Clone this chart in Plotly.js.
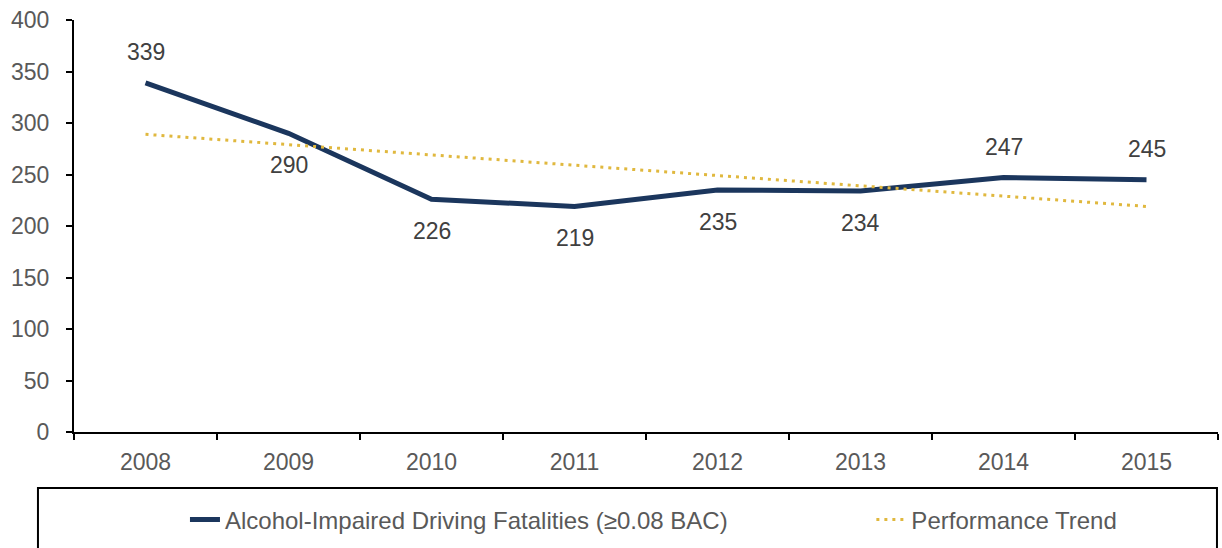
<!DOCTYPE html>
<html><head><meta charset="utf-8">
<script src="https://cdn.plot.ly/plotly-3.0.1.min.js"></script>
<style>html,body{margin:0;padding:0;background:#fff;}#chart{width:1222px;height:548px;}</style>
</head><body><div id="chart"></div>
<script>
const years = ['2008','2009','2010','2011','2012','2013','2014','2015'];
const fatalities = [339, 290, 226, 219, 235, 234, 247, 245];
const trend = [289, 279, 269, 259, 249, 239, 229, 219];
const labelAbove = [true, false, false, false, false, false, true, true];
const yTicks = [0, 50, 100, 150, 200, 250, 300, 350, 400];

const font = 'Liberation Sans, Arial, sans-serif';

const traces = [
  {x: years, y: fatalities, type: 'scatter', mode: 'lines',
   name: 'Alcohol-Impaired Driving Fatalities (≥0.08 BAC)',
   legend: 'legend',
   line: {color: '#1B365D', width: 5}},
  {x: years, y: trend, type: 'scatter', mode: 'lines',
   name: 'Performance Trend',
   legend: 'legend2',
   line: {color: '#E0B83E', width: 3, dash: '3px,5px'}}
];

const annotations = years.map((yr, i) => ({
  x: i, y: fatalities[i], xref: 'x', yref: 'y', text: String(fatalities[i]),
  showarrow: false, yshift: labelAbove[i] ? 31 : -32,
  font: {family: font, size: 23, color: '#404040'}
}));

const legendFont = {family: font, size: 24, color: '#595959'};
const tickFont = {family: font, size: 23, color: '#595959'};

const layout = {
  width: 1222, height: 548,
  margin: {l: 74, r: 4, t: 20, b: 116, autoexpand: false},
  paper_bgcolor: '#fff', plot_bgcolor: '#fff',
  font: {family: font, size: 23, color: '#595959'},
  xaxis: {type: 'category', range: [-0.5, 7.5], tickson: 'boundaries',
    ticks: 'outside', ticklen: 6, tickwidth: 2, tickcolor: '#000',
    showline: true, linecolor: '#000', linewidth: 2, showgrid: false, zeroline: false,
    automargin: false, ticklabelstandoff: 8, tickfont: tickFont},
  yaxis: {range: [0, 400], tickvals: yTicks, ticks: 'outside', ticklen: 6, tickwidth: 2,
    tickcolor: '#000', showline: true, linecolor: '#000', linewidth: 2,
    showgrid: false, zeroline: false, ticklabelstandoff: 12, automargin: false,
    tickfont: tickFont},
  xaxis2: {overlaying: 'x', anchor: 'y', side: 'bottom', range: [0, 8],
    tickvals: [0, 1, 2, 3, 4, 5, 6, 7, 8], ticks: 'inside', ticklen: 7, tickwidth: 2,
    tickcolor: '#000', showticklabels: false, showline: false, showgrid: false,
    zeroline: false, automargin: false},
  yaxis2: {overlaying: 'y', anchor: 'x', side: 'left', range: [0, 400],
    tickvals: yTicks, ticks: 'inside', ticklen: 7, tickwidth: 2, tickcolor: '#000',
    showticklabels: false, showline: false, showgrid: false, zeroline: false,
    automargin: false},
  showlegend: true,
  legend: {orientation: 'h', x: 0.097, xanchor: 'left', y: -0.2136, yanchor: 'middle',
    bgcolor: 'rgba(0,0,0,0)', font: legendFont},
  legend2: {orientation: 'h', x: 0.697, xanchor: 'left', y: -0.2136, yanchor: 'middle',
    bgcolor: 'rgba(0,0,0,0)', font: legendFont},
  shapes: [{type: 'rect', xref: 'paper', yref: 'paper', x0: -0.0315, x1: 0.9991,
    y0: -0.1359, y1: -0.6, line: {color: '#000', width: 2}, fillcolor: 'rgba(0,0,0,0)'}],
  annotations: annotations
};

Plotly.newPlot('chart', traces, layout, {displayModeBar: false, staticPlot: true});
</script></body></html>
